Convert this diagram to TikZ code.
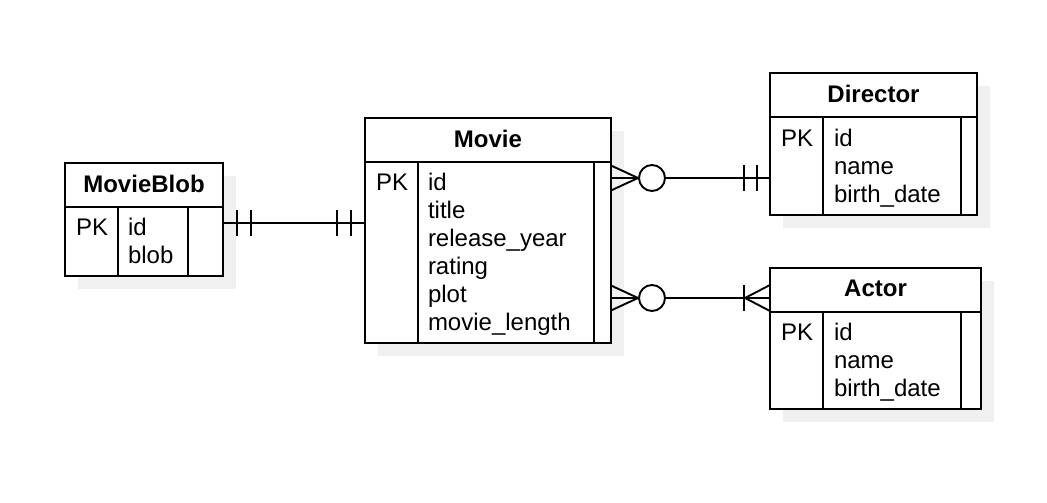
\documentclass[tikz,border=0pt]{standalone}
\usepackage{fontspec}
\setmainfont{Liberation Sans}
\usetikzlibrary{positioning,backgrounds}

\begin{document}
\begin{tikzpicture}[x=1pt,y=-1pt,line width=1.9pt,
  every node/.style={inner sep=0pt,outer sep=0pt},
  hdr/.style={draw,fill=white,anchor=north west,minimum height=44,text depth=3pt,font=\fontsize{24}{28}\selectfont\bfseries},
  col/.style={draw,fill=white,anchor=north west},
  fld/.style={anchor=base west,font=\fontsize{24}{28}\selectfont},
  shade/.style={fill=black!6,draw=none}]
\useasboundingbox (0,0) rectangle (1047,503);

% MovieBlob
\node[hdr,minimum width=158] (blob) at (65,163) {MovieBlob};
\node[col,minimum width=53,minimum height=69] (blobpk) at (blob.south west) {};
\node[col,minimum width=70,minimum height=69] (blobfld) at (blobpk.north east) {};
\node[col,minimum width=35,minimum height=69] (blobext) at (blobfld.north east) {};
\node[fld] (blobk) at ([shift={(11,28)}]blobpk.north west) {PK};
\foreach \f [count=\i] in {id,blob}
  \node[fld] (blobf\i) at ([shift={(10,28*\i)}]blobfld.north west) {\f};

% Movie
\node[hdr,minimum width=246] (mv) at (365,118) {Movie};
\node[col,minimum width=53,minimum height=181] (mvpk) at (mv.south west) {};
\node[col,minimum width=176,minimum height=181] (mvfld) at (mvpk.north east) {};
\node[col,minimum width=17,minimum height=181] (mvext) at (mvfld.north east) {};
\node[fld] (mvk) at ([shift={(11,28)}]mvpk.north west) {PK};
\foreach \f [count=\i] in {id,title,release\_year,rating,plot,movie\_length}
  \node[fld] (mvf\i) at ([shift={(10,28*\i)}]mvfld.north west) {\f};

% Director
\node[hdr,minimum width=207] (dir) at (770,73) {Director};
\node[col,minimum width=53,minimum height=98] (dirpk) at (dir.south west) {};
\node[col,minimum width=138,minimum height=98] (dirfld) at (dirpk.north east) {};
\node[col,minimum width=16,minimum height=98] (dirext) at (dirfld.north east) {};
\node[fld] (dirk) at ([shift={(11,29)}]dirpk.north west) {PK};
\foreach \f [count=\i] in {id,name,birth\_date}
  \node[fld] (dirf\i) at ([shift={(11,1+28*\i)}]dirfld.north west) {\f};

% Actor
\node[hdr,minimum width=211] (act) at (770,268) {Actor};
\node[col,minimum width=53,minimum height=97] (actpk) at (act.south west) {};
\node[col,minimum width=138,minimum height=97] (actfld) at (actpk.north east) {};
\node[col,minimum width=20,minimum height=97] (actext) at (actfld.north east) {};
\node[fld] (actk) at ([shift={(11,28)}]actpk.north west) {PK};
\foreach \f [count=\i] in {id,name,birth\_date}
  \node[fld] (actf\i) at ([shift={(11,28*\i)}]actfld.north west) {\f};

% shadows
\begin{scope}[on background layer]
\foreach \t/\e in {blob/blobext,mv/mvext,dir/dirext,act/actext}
  \fill[shade] ([shift={(13,13)}]\t.north west) rectangle ([shift={(13,13)}]\e.south east);
\end{scope}

% MovieBlob -- Movie
\coordinate (r1a) at (blobext.east |- 0,223);
\coordinate (r1b) at (mvpk.west |- 0,223);
\draw (r1a) -- (r1b);
\foreach \d in {14,28} {
  \draw ([xshift=\d]r1a) ++(0,-13) -- ++(0,26);
  \draw ([xshift=-\d]r1b) ++(0,-13) -- ++(0,26);
}

% Movie -- Director
\coordinate (r2a) at (mvext.east |- 0,178);
\coordinate (r2b) at (dirpk.west |- 0,178);
\draw (r2a) -- (r2b);
\draw (r2a) ++(0,-12.5) -- ++(27,12.5) -- ++(-27,12.5);
\draw[fill=white] ([xshift=41]r2a) circle (13);
\foreach \d in {13,26}
  \draw ([xshift=-\d]r2b) ++(0,-13) -- ++(0,26);

% Movie -- Actor
\coordinate (r3a) at (mvext.east |- 0,298);
\coordinate (r3b) at (actpk.west |- 0,298);
\draw (r3a) -- (r3b);
\draw (r3a) ++(0,-12.5) -- ++(27,12.5) -- ++(-27,12.5);
\draw[fill=white] ([xshift=41]r3a) circle (13);
\draw (r3b) ++(0,-13) -- ++(-25,13) -- ++(25,13);
\draw ([xshift=-26]r3b) ++(0,-13) -- ++(0,26);
\end{tikzpicture}
\end{document}
